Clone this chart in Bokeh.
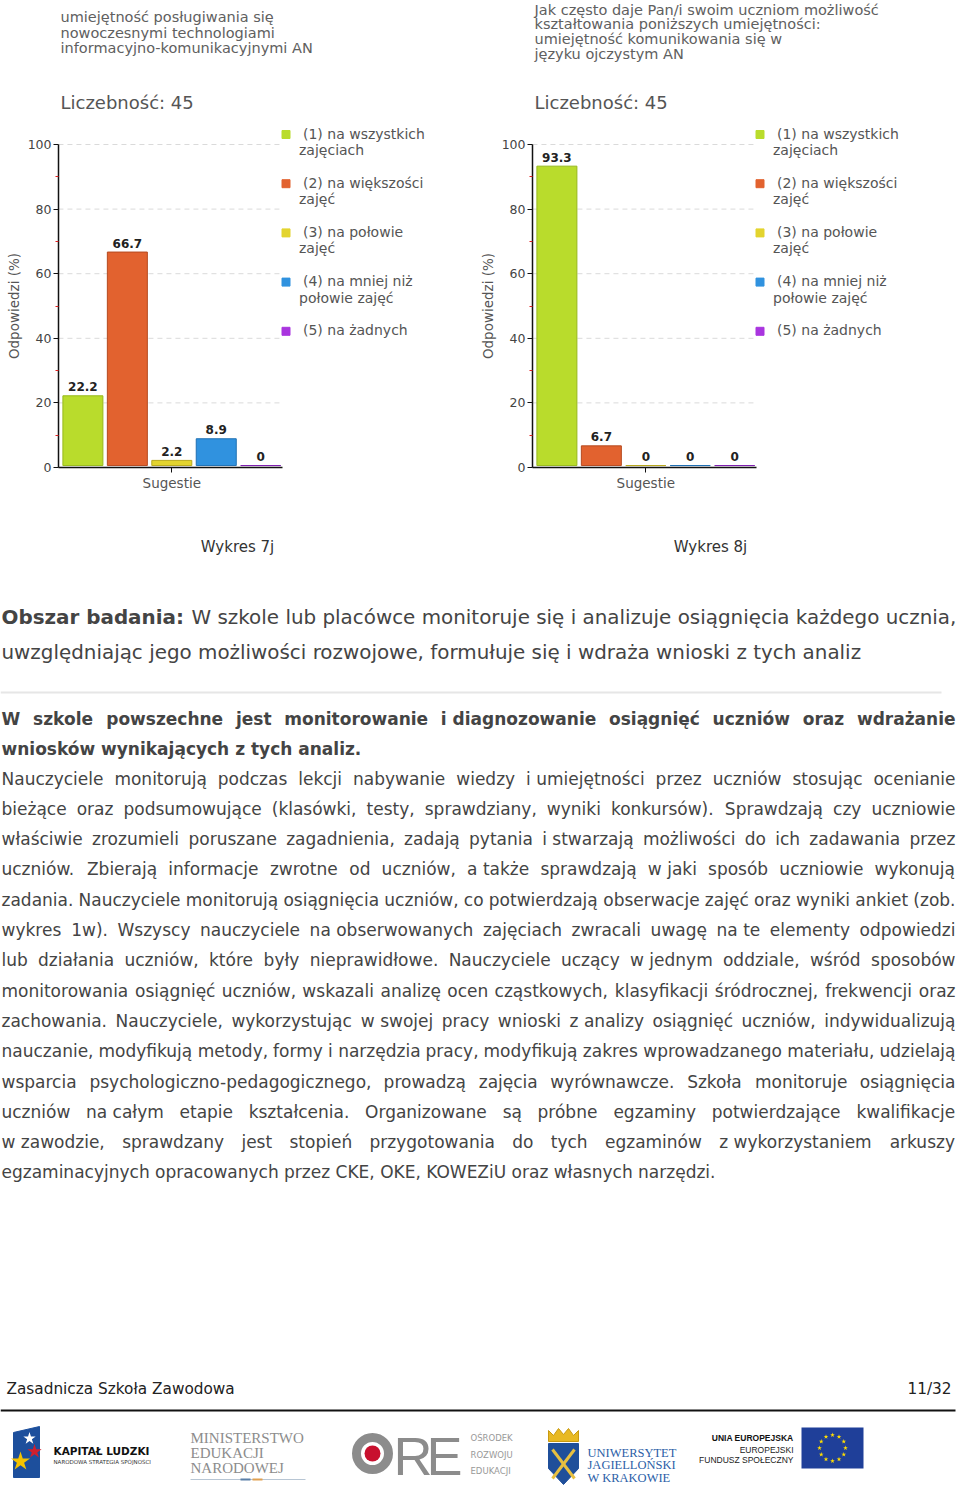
import math
from bokeh.plotting import figure
from bokeh.layouts import column, row
from bokeh.models import Range1d, FixedTicker, LinearAxis, Title
from bokeh.core.properties import value
from bokeh.embed import file_html
from bokeh.resources import INLINE

# ---------------- data ----------------
legend_labels = ["(1) na wszystkich\nzajęciach", "(2) na większości\nzajęć", "(3) na połowie\nzajęć",
                 "(4) na mniej niż\npołowie zajęć", "(5) na żadnych"]
bar_colors = ["#b9dc2c", "#e2622f", "#e3d42f", "#3092df", "#a935df"]
bar_edges = ["#98b81c", "#b54a1f", "#b8a81e", "#1f70b3", "#7f20b0"]
values_7j = [22.2, 66.7, 2.2, 8.9, 0]
values_8j = [93.3, 6.7, 0, 0, 0]
title_7j = ["umiejętność posługiwania się", "nowoczesnymi technologiami", "informacyjno-komunikacyjnymi AN"]
title_8j = ["Jak często daje Pan/i swoim uczniom możliwość", "kształtowania poniższych umiejętności:",
            "umiejętność komunikowania się w", "języku ojczystym AN"]
count_7j = 45
count_8j = 45
group_label = "Sugestie"
y_ticks = [0, 20, 40, 60, 80, 100]
y_minor_ticks = [10, 30, 50, 70, 90]
y_axis_title = "Odpowiedzi (%)"
captions = ["Wykres 7j", "Wykres 8j"]

heading_bold = "Obszar badania:"
heading_lines = ["W szkole lub placówce monitoruje się i analizuje osiągnięcia każdego ucznia,",
                 "uwzględniając jego możliwości rozwojowe, formułuje się i wdraża wnioski z tych analiz"]
bold_lines = ["W szkole powszechne jest monitorowanie i diagnozowanie osiągnięć uczniów oraz wdrażanie",
              "wniosków wynikających z tych analiz."]
body_lines = [
    "Nauczyciele monitorują podczas lekcji nabywanie wiedzy i umiejętności przez uczniów stosując ocenianie",
    "bieżące oraz podsumowujące (klasówki, testy, sprawdziany, wyniki konkursów). Sprawdzają czy uczniowie",
    "właściwie zrozumieli poruszane zagadnienia, zadają pytania i stwarzają możliwości do ich zadawania przez",
    "uczniów. Zbierają informacje zwrotne od uczniów, a także sprawdzają w jaki sposób uczniowie wykonują",
    "zadania. Nauczyciele monitorują osiągnięcia uczniów, co potwierdzają obserwacje zajęć oraz wyniki ankiet (zob.",
    "wykres 1w). Wszyscy nauczyciele na obserwowanych zajęciach zwracali uwagę na te elementy odpowiedzi",
    "lub działania uczniów, które były nieprawidłowe. Nauczyciele uczący w jednym oddziale, wśród sposobów",
    "monitorowania osiągnięć uczniów, wskazali analizę ocen cząstkowych, klasyfikacji śródrocznej, frekwencji oraz",
    "zachowania. Nauczyciele, wykorzystując w swojej pracy wnioski z analizy osiągnięć uczniów, indywidualizują",
    "nauczanie, modyfikują metody, formy i narzędzia pracy, modyfikują zakres wprowadzanego materiału, udzielają",
    "wsparcia psychologiczno-pedagogicznego, prowadzą zajęcia wyrównawcze. Szkoła monitoruje osiągnięcia",
    "uczniów na całym etapie kształcenia. Organizowane są próbne egzaminy potwierdzające kwalifikacje",
    "w zawodzie, sprawdzany jest stopień przygotowania do tych egzaminów z wykorzystaniem arkuszy",
    "egzaminacyjnych opracowanych przez CKE, OKE, KOWEZiU oraz własnych narzędzi.",
]
footer_left = "Zasadnicza Szkoła Zawodowa"
footer_right = "11/32"

FONT = "DejaVu Sans"

# ---------------- text widths ----------------
REG = dict(zip(" abcdefghijklmnopqrstuvwxyz",
               [651, 1255, 1300, 1126, 1300, 1260, 721, 1300, 1298, 569, 569, 1186, 569, 1995, 1298, 1253,
                1300, 1300, 842, 1067, 803, 1298, 1212, 1675, 1212, 1212, 1075]))
REG.update(dict(zip("ABCDEFGHIJKLMNOPQRSTUVWXYZ",
                    [1401, 1405, 1430, 1577, 1294, 1178, 1587, 1540, 604, 604, 1343, 1141, 1767, 1532, 1612,
                     1235, 1612, 1423, 1300, 1251, 1499, 1401, 2025, 1403, 1251, 1403])))
REG.update(dict(zip(",.:;()-/%", [651, 651, 690, 690, 799, 799, 739, 690, 1946])))
for d in "0123456789":
    REG[d] = 1303
BOLD = dict(zip(" abcdefghijklmnopqrstuvwxyz",
                [713, 1382, 1466, 1214, 1466, 1389, 891, 1466, 1458, 702, 702, 1362, 702, 2134, 1458, 1407,
                 1466, 1466, 1010, 1219, 979, 1458, 1335, 1892, 1335, 1335, 1192]))
BOLD.update({k: int(v * 1.12) for k, v in REG.items() if k.isupper() or k.isdigit()})
BOLD.update(dict(zip(",.:;()-", [780, 780, 818, 818, 938, 938, 856])))
PL = dict(zip("ąćęńóśźżŚŻŁ", "acenoszzSZL"))


def tw(s, size, bold=False):
    tab = BOLD if bold else REG
    tot = 0
    for c in s:
        if c == "ł":
            tot += 702 if bold else 593
        else:
            tot += tab.get(PL.get(c, c), 1250)
    return tot * size / 2048


# ---------------- chart geometry ----------------
CH = 528
BL, BB = 58, 61
PITCH = 44.45
X0 = 1 - 24.4 / PITCH
PPU = 3.23
YTOP = (CH - BB) / PPU
BASE = 0.6
YT_SIZE = 13.5


def make_chart(width, title_lines, title_y, vals, count):
    XEND = X0 + (width - BL) / PITCH

    def fx(lx):
        return X0 + (lx - BL) / PITCH

    def fy(ly):
        return (CH - BB - ly) / PPU

    n = len(vals)
    xs = list(range(1, n + 1))
    p = figure(width=width, height=CH, x_range=Range1d(X0, XEND), y_range=Range1d(0, YTOP),
               output_backend="svg", toolbar_location=None, x_axis_type=None, y_axis_type=None,
               min_border_left=BL, min_border_right=0, min_border_top=0, min_border_bottom=BB,
               outline_line_color=None, background_fill_color="white", border_fill_color="white")
    lo, hi = 0.45, n + 0.5
    gt = [t for t in y_ticks if t > 0]
    p.segment(x0=[lo] * len(gt), y0=gt, x1=[hi] * len(gt), y1=gt,
              line_color="#dadada", line_width=1, line_dash="5 4")
    tops = [max(v, BASE) for v in vals]
    p.vbar(x=xs, width=0.9, bottom=BASE, top=tops, fill_color=bar_colors, line_color=bar_edges, line_width=1)
    p.text(x=xs, y=tops, text=[f"{v:g}" for v in vals], text_align="center", text_baseline="middle",
           y_offset=-9, text_font=value(FONT), text_font_size="12px", text_font_style="bold", text_color="#222")
    # titles
    p.text(x=[fx(BL + 2)] * len(title_lines), y=[fy(v) for v in title_y], text=title_lines,
           text_align="left", text_baseline="middle", text_font=value(FONT), text_font_size="14.5px",
           text_color="#606060")
    p.text(x=[fx(BL + 2)], y=[fy(102)], text=[f"Liczebność: {count}"], text_align="left", text_baseline="middle",
           text_font=value(FONT), text_font_size="18px", text_color="#555")
    # legend
    first = [s.split("\n")[0] for s in legend_labels]
    second = [s.split("\n")[1] if "\n" in s else "" for s in legend_labels]
    ly = [134 + i * 49.2 for i in range(len(legend_labels))]
    p.scatter(x=[fx(BL + 227.5)] * len(ly), y=[fy(v) for v in ly], marker="square", size=8,
              fill_color=bar_colors, line_color=bar_colors)
    p.text(x=[fx(BL + 244.5)] * len(ly), y=[fy(v - 1) for v in ly], text=first, text_align="left",
           text_baseline="middle", text_font=value(FONT), text_font_size="14px", text_color="#555")
    p.text(x=[fx(BL + 240.5)] * len(ly), y=[fy(v + 15.5) for v in ly], text=second, text_align="left",
           text_baseline="middle", text_font=value(FONT), text_font_size="14px", text_color="#555")
    # axes
    ya = LinearAxis(ticker=FixedTicker(ticks=y_ticks, minor_ticks=y_minor_ticks), bounds=(0, 100))
    ya.axis_line_color = "#111"
    ya.axis_line_width = 1.5
    ya.major_tick_out = 5
    ya.major_tick_in = 0
    ya.major_tick_line_color = "#111"
    ya.minor_tick_out = 3
    ya.minor_tick_in = 0
    ya.minor_tick_line_color = "#e02020"
    ya.major_label_standoff = 2
    ya.major_label_text_font = FONT
    ya.major_label_text_font_size = "12.5px"
    ya.major_label_text_color = "#444"
    p.add_layout(ya, "left")
    # y title centred on the 0-100 part of the axis
    off = 50 * PPU - tw(y_axis_title, YT_SIZE) / 2
    yt = Title(text=y_axis_title, align="left", offset=off, standoff=5, text_font=FONT,
               text_font_size=f"{YT_SIZE}px", text_font_style="normal", text_color="#555")
    p.add_layout(yt, "left")
    xa = LinearAxis(ticker=FixedTicker(ticks=[3]), bounds=(lo, hi), major_label_overrides={3: group_label})
    xa.axis_line_color = "#111"
    xa.axis_line_width = 1.5
    xa.major_tick_out = 5
    xa.major_tick_in = 0
    xa.major_tick_line_color = "#111"
    xa.major_label_standoff = 2
    xa.major_label_text_font = FONT
    xa.major_label_text_font_size = "13.5px"
    xa.major_label_text_color = "#555"
    p.add_layout(xa, "below")
    return p


p1 = make_chart(474, title_7j, [16.7, 32.3, 47.7], values_7j, count_7j)
p2 = make_chart(486, title_8j, [9.3, 23.8, 38.3, 53.3], values_8j, count_8j)

GLUE = {"i", "w", "z", "a", "o", "u", "na"}


def draw_line(q, line, y, size, bold, justify, x_left=1.0, x_right=955.0, color="#444"):
    style = "bold" if bold else "normal"
    if not justify:
        q.text(x=[x_left], y=[y], text=[line], text_align="left", text_baseline="middle",
               text_font=value(FONT), text_font_size=f"{size}px", text_font_style=style, text_color=color)
        return
    toks = line.split(" ")
    units = []
    i = 0
    while i < len(toks):
        if toks[i] in GLUE and i + 1 < len(toks):
            units.append(toks[i] + " " + toks[i + 1])
            i += 2
        else:
            units.append(toks[i])
            i += 1
    widths = [tw(u, size, bold) for u in units]
    gap = (x_right - x_left - sum(widths)) / (len(units) - 1)
    xs = []
    x = x_left
    for w in widths:
        xs.append(x)
        x += w + gap
    q.text(x=xs, y=[y] * len(units), text=units, text_align="left", text_baseline="middle",
           text_font=value(FONT), text_font_size=f"{size}px", text_font_style=style, text_color=color)


# ---------------- lower page ----------------
QH = 1498 - CH
q = figure(width=960, height=QH, x_range=Range1d(0, 960), y_range=Range1d(1498, CH),
           output_backend="svg", toolbar_location=None, x_axis_type=None, y_axis_type=None,
           min_border_left=0, min_border_right=0, min_border_top=0, min_border_bottom=0,
           outline_line_color=None, background_fill_color="white", border_fill_color="white")

q.text(x=[237, 710], y=[546, 546], text=captions, text_align="center", text_baseline="middle",
       text_font=value(FONT), text_font_size="15px", text_color="#333")

HS = 19.9
q.text(x=[1], y=[617], text=[heading_bold], text_align="left", text_baseline="middle",
       text_font=value(FONT), text_font_size=f"{HS}px", text_font_style="bold", text_color="#444")
q.text(x=[1 + tw(heading_bold + " ", HS, True)], y=[617], text=[heading_lines[0]], text_align="left",
       text_baseline="middle", text_font=value(FONT), text_font_size=f"{HS}px", text_color="#444")
q.text(x=[1], y=[652], text=[heading_lines[1]], text_align="left", text_baseline="middle",
       text_font=value(FONT), text_font_size=f"{HS}px", text_color="#444")
q.segment(x0=[0], y0=[692], x1=[941], y1=[692], line_color="#e6e6e6", line_width=2)

PS = 17
for k, ln in enumerate(bold_lines):
    draw_line(q, ln, 718 + 30.3 * k, PS, True, k < len(bold_lines) - 1)
for k, ln in enumerate(body_lines):
    draw_line(q, ln, 778 + 30.3 * k, PS, False, k < len(body_lines) - 1)

# footer
q.text(x=[6], y=[1388], text=[footer_left], text_align="left", text_baseline="middle",
       text_font=value(FONT), text_font_size="15.3px", text_color="#222")
q.text(x=[951], y=[1388], text=[footer_right], text_align="right", text_baseline="middle",
       text_font=value(FONT), text_font_size="15.3px", text_color="#222")
q.segment(x0=[0], y0=[1410], x1=[955], y1=[1410], line_color="#111", line_width=2)

# logo: Kapitał Ludzki
q.patch(x=[13, 39, 39, 13], y=[1432, 1426, 1477, 1477], fill_color="#1d4f9c", line_color="#1d4f9c")
q.scatter(x=[20, 34, 29], y=[1461, 1451, 1438], marker="star", size=[20, 15, 13],
          fill_color=["#f4c300", "#d0202e", "white"], line_color=None)
q.text(x=[53], y=[1450], text=["KAPITAŁ LUDZKI"], text_align="left", text_baseline="middle",
       text_font=value(FONT), text_font_size="10.5px", text_font_style="bold", text_color="#111")
q.text(x=[53], y=[1461], text=["NARODOWA STRATEGIA SPÓJNOŚCI"], text_align="left", text_baseline="middle",
       text_font=value(FONT), text_font_size="5.5px", text_color="#333")
# logo: MEN
q.text(x=[190] * 3, y=[1437, 1452, 1467], text=["MINISTERSTWO", "EDUKACJI", "NARODOWEJ"], text_align="left",
       text_baseline="middle", text_font=value("Liberation Serif"), text_font_size="15px", text_color="#8c8c8c")
q.segment(x0=[190], y0=[1479], x1=[305], y1=[1479], line_color="#b8c6d4", line_width=1)
q.segment(x0=[240, 252], y0=[1479, 1479], x1=[250, 262], y1=[1479, 1479], line_color=["#5a7fa8", "#e0a050"],
          line_width=2)
# logo: ORE
q.scatter(x=[372], y=[1453], marker="circle", size=32, fill_color=None, line_color="#8c8c8c", line_width=9)
q.scatter(x=[372], y=[1453], marker="circle", size=16, fill_color="#c8102e", line_color=None)
q.text(x=[393, 426], y=[1455, 1455], text=["R", "E"], text_align="left", text_baseline="middle",
       text_font=value("Liberation Sans"), text_font_size="54px", text_color="#8c8c8c")
q.text(x=[470] * 3, y=[1437, 1454, 1470], text=["OŚRODEK", "ROZWOJU", "EDUKACJI"], text_align="left",
       text_baseline="middle", text_font=value(FONT), text_font_size="8.5px", text_color="#999")
# logo: UJ
q.patch(x=[548, 548, 553, 558, 563, 568, 573, 578, 578], y=[1441, 1430, 1435, 1428, 1434, 1428, 1435, 1430, 1441],
        fill_color="#e8b923", line_color="#c99a10")
q.patch(x=[548, 578, 578, 563, 548], y=[1443, 1443, 1468, 1484, 1468], fill_color="#1f4f9a", line_color="#1f4f9a")
q.segment(x0=[552, 574], y0=[1449, 1449], x1=[574, 552], y1=[1478, 1478], line_color="#e8c040", line_width=3)
q.text(x=[587] * 3, y=[1452, 1464, 1477], text=["UNIWERSYTET", "JAGIELLOŃSKI", "W KRAKOWIE"], text_align="left",
       text_baseline="middle", text_font=value("Liberation Serif"), text_font_size="12.5px", text_color="#2b5ea7")
# logo: EU
q.text(x=[793], y=[1437], text=["UNIA EUROPEJSKA"], text_align="right", text_baseline="middle",
       text_font=value("Liberation Sans"), text_font_size="8.5px", text_font_style="bold", text_color="#111")
q.text(x=[793, 793], y=[1449, 1459], text=["EUROPEJSKI", "FUNDUSZ SPOŁECZNY"], text_align="right",
       text_baseline="middle", text_font=value("Liberation Sans"), text_font_size="8.5px", text_color="#222")
q.quad(left=[801], right=[863], top=[1427], bottom=[1468], fill_color="#1f3f99", line_color=None)
ang = [2 * math.pi * k / 12 for k in range(12)]
q.scatter(x=[832 + 13 * math.cos(a) for a in ang], y=[1447.5 + 13 * math.sin(a) for a in ang], marker="star",
          size=5, fill_color="#ffdd00", line_color=None)

layout = column(row(p1, p2), q)
open("out.html", "w").write(file_html(layout, INLINE))
